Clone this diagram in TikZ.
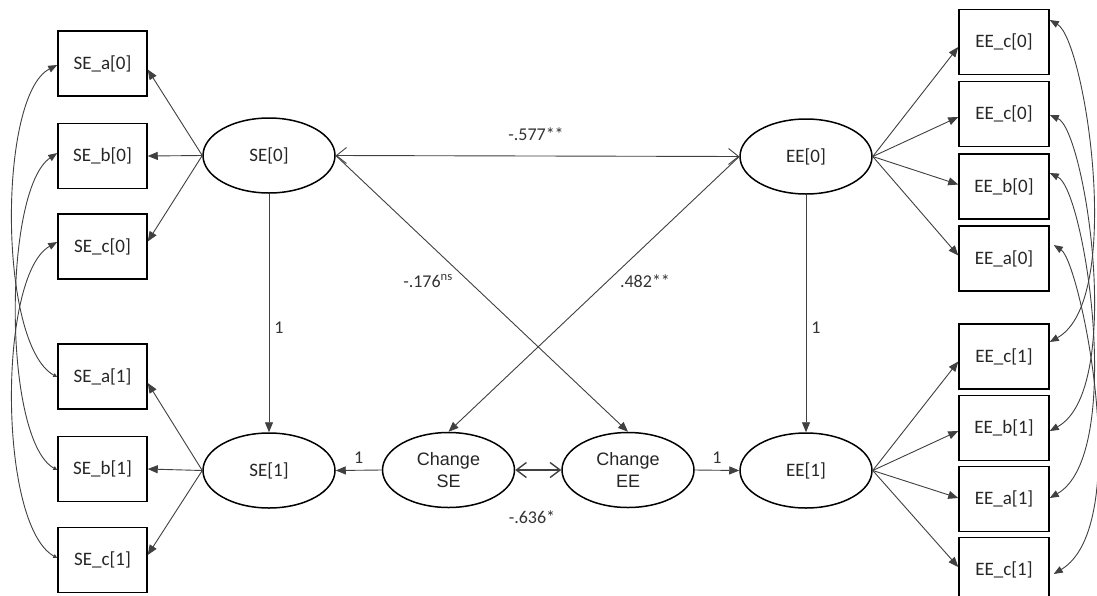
\documentclass[tikz,border=0pt]{standalone}
\usepackage{fontspec}
\setmainfont{Carlito}
\newfontfamily\arialf{Liberation Sans}
\usetikzlibrary{shapes.geometric,arrows.meta}
\begin{document}
\begin{tikzpicture}[x=1pt,y=-1pt,
  obs/.style={draw=black,line width=1.5pt,minimum width=89pt,minimum height=65pt,inner sep=0pt,text=black!85,font=\fontsize{19}{22}\selectfont},
  lat/.style={draw=black,ellipse,line width=1.5pt,minimum width=132pt,minimum height=75pt,inner sep=0pt,text=black!85,font=\fontsize{19}{22}\selectfont},
  chg/.style={lat,font=\arialf\fontsize{18}{21.5}\selectfont,align=center},
  con/.style={draw=black!75,line width=0.9pt},
  tip/.style={con,-{Triangle[length=10pt,width=8pt]}},
  cov/.style={con,{Triangle[length=9pt,width=7pt]}-{Triangle[length=9pt,width=7pt]}},
  covl/.style={con,{Triangle[length=9pt,width=7pt]}-{Triangle[length=4pt,width=4pt]}},
  lbl/.style={text=black!80,font=\fontsize{18}{21}\selectfont,inner sep=0pt}
]
\useasboundingbox[fill=white] (0,0) rectangle (1097,595);

% observed SE
\node[obs] (SEa0) at (102.5,63.5) {SE\_a[0]};
\node[obs] (SEb0) at (102.5,156) {SE\_b[0]};
\node[obs] (SEc0) at (102.5,246.5) {SE\_c[0]};
\node[obs] (SEa1) at (102.5,376.5) {SE\_a[1]};
\node[obs] (SEb1) at (102.5,469) {SE\_b[1]};
\node[obs] (SEc1) at (102.5,560) {SE\_c[1]};
% observed EE
\node[obs,minimum width=90pt] (EEc0) at (1004,42) {EE\_c[0]};
\node[obs,minimum width=90pt] (EEc0b) at (1004,114) {EE\_c[0]};
\node[obs,minimum width=90pt] (EEb0) at (1004,186.5) {EE\_b[0]};
\node[obs,minimum width=90pt] (EEa0) at (1004,258.5) {EE\_a[0]};
\node[obs,minimum width=90pt] (EEc1) at (1004,356.5) {EE\_c[1]};
\node[obs,minimum width=90pt] (EEb1) at (1004,428) {EE\_b[1]};
\node[obs,minimum width=90pt] (EEa1) at (1004,499) {EE\_a[1]};
\node[obs,minimum width=90pt] (EEc1b) at (1004,570) {EE\_c[1]};

% latent
\node[lat] (SE0) at (269,155.5) {SE[0]};
\node[lat] (SE1) at (269,470.5) {SE[1]};
\node[lat] (EE0) at (806,156.5) {EE[0]};
\node[lat] (EE1) at (806,470.5) {EE[1]};
\node[chg] (CSE) at (448.5,470) {Change\\SE};
\node[chg] (CEE) at (628,470) {Change\\EE};

% loadings SE
\draw[tip] (SE0.west) -- ([yshift=-6pt]SEa0.east);
\draw[tip] (SE0.west) -- (SEb0.east);
\draw[tip] (SE0.west) -- ([yshift=5pt]SEc0.east);
\draw[tip] (SE1.west) -- ([yshift=-6.5pt]SEa1.east);
\draw[tip] (SE1.west) -- (SEb1.east);
\draw[tip] (SE1.west) -- ([yshift=5pt]SEc1.east);
% loadings EE
\draw[tip] (EE0.east) -- ([yshift=-5pt]EEc0.west);
\draw[tip] (EE0.east) -- ([yshift=-3pt]EEc0b.west);
\draw[tip] (EE0.east) -- ([yshift=2pt]EEb0.west);
\draw[tip] (EE0.east) -- ([yshift=3pt]EEa0.west);
\draw[tip] (EE1.east) -- ([yshift=-5pt]EEc1.west);
\draw[tip] (EE1.east) -- ([yshift=-3pt]EEb1.west);
\draw[tip] (EE1.east) -- ([yshift=1pt]EEa1.west);
\draw[tip] (EE1.east) -- ([yshift=3pt]EEc1b.west);

% structural
\draw[tip] (SE0.south) -- (SE1.north) node[lbl,pos=0.56,right=5pt] {1};
\draw[tip] (EE0.south) -- (EE1.north) node[lbl,pos=0.56,right=5pt] {1};
\draw[tip] (CSE.west) -- (SE1.east) node[lbl,midway,above=6pt] {1};
\draw[tip] (CEE.east) -- (EE1.west) node[lbl,midway,above=6pt] {1};
\draw[con,{Straight Barb[length=10pt,width=16pt]}-{Straight Barb[length=10pt,width=16pt]}] (SE0.east) -- (EE0.west);
\node[lbl] (l577) at (536,134) {-.577**};
\draw[con,line width=1.4pt,{Straight Barb[length=10pt,width=15pt]}-{Straight Barb[length=10pt,width=15pt]}] (CSE.east) -- (CEE.west);
\node[lbl] (l636) at (532,517) {-.636*};
\draw[tip] (SE0.east) -- (CEE.north);
\node[lbl] (l176) at (428,281) {-.176\textsuperscript{ns}};
\draw[tip] (EE0.west) -- (CSE.north);
\node[lbl] (l482) at (645,281) {.482**};

% residual covariances SE
\draw[covl] ([yshift=-1.5pt]SEa0.west) .. controls (-2,95) and (-2,345) .. ([yshift=-0.5pt]SEa1.west);
\draw[covl] ([yshift=3pt]SEb0.west) .. controls (3,190) and (3,440) .. ([yshift=-1pt]SEb1.west);
\draw[covl] ([yshift=4.5pt]SEc0.west) .. controls (-2,275) and (-2,525) .. ([yshift=2pt]SEc1.west);

% residual covariances EE
\draw[cov] ([yshift=22pt]EEc0.east) .. controls (1085,40) and (1125,300) .. ([yshift=14.5pt]EEc1.east);
\draw[cov] ([yshift=-1pt]EEc0b.east) .. controls (1085,130) and (1125,390) .. ([yshift=-3pt]EEb1.east);
\draw[cov] ([yshift=13.5pt]EEb0.east) .. controls (1085,190) and (1125,455) .. ([yshift=1pt]EEa1.east);
\draw[cov] ([xshift=4pt,yshift=13.5pt]EEa0.east) .. controls (1080,262) and (1135,525) .. ([xshift=4pt,yshift=-4pt]EEc1b.east);
\end{tikzpicture}
\end{document}
